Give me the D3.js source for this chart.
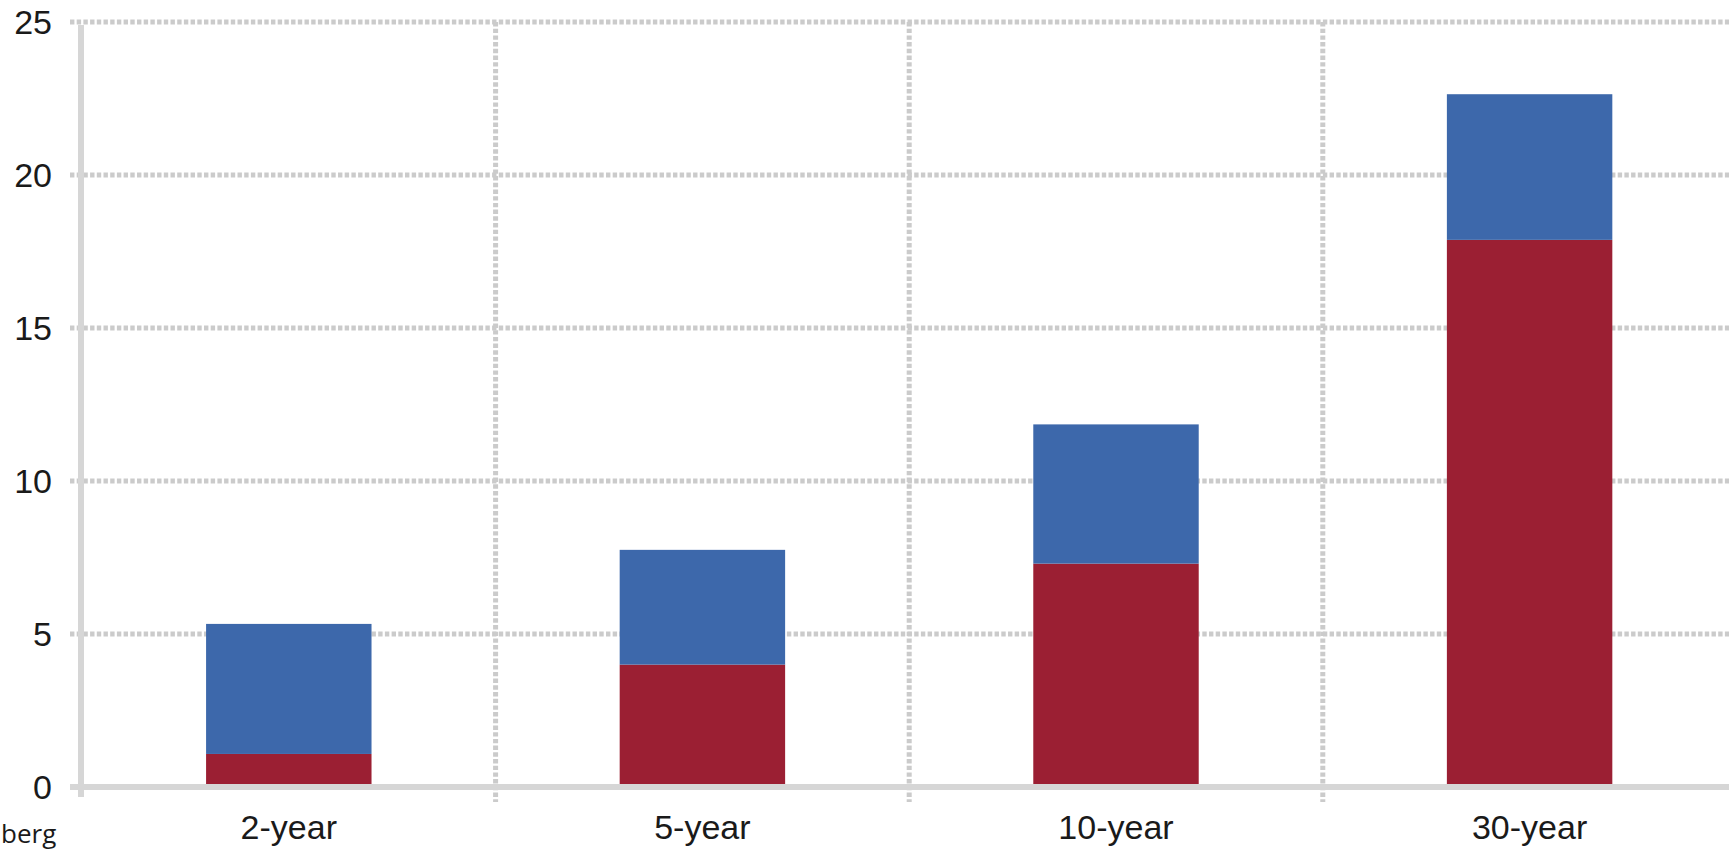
<!DOCTYPE html>
<html>
<head>
<meta charset="utf-8">
<script src="https://cdn.jsdelivr.net/npm/d3@7"></script>
<style>
  html, body { margin: 0; padding: 0; background: #fff; overflow: hidden; }
  svg { display: block; }
</style>
</head>
<body>
<svg id="chart" width="1729" height="850"></svg>
<script>
// Stacked bars by maturity
const categories = ["2-year", "5-year", "10-year", "30-year"];
const lowerValues = [1.08, 4.0, 7.3, 17.88];   // red segment
const upperValues = [4.25, 3.75, 4.55, 4.76];  // blue segment stacked on top
const yTicks = [0, 5, 10, 15, 20, 25];
const seriesKeys = ["lower", "upper"];
const seriesColors = { lower: "#9b1f33", upper: "#3d68ab" };
const sourceText = "berg";

const rows = categories.map((c, i) => ({ cat: c, lower: lowerValues[i], upper: upperValues[i] }));

const svg = d3.select("#chart");
const W = 1729;
const left = 82, step = 413.6;

const x = d3.scaleBand().domain(categories).range([left, left + step * categories.length]).padding(0);
const y = d3.scaleLinear().domain([0, 25]).range([787, 22]);

const gridColor = "#cbcbcb";
const axisColor = "#d6d6d6";

// horizontal dotted gridlines
svg.append("g").selectAll("line")
  .data(yTicks.filter(t => t > 0))
  .join("line")
  .attr("x1", 70).attr("x2", W)
  .attr("y1", d => y(d)).attr("y2", d => y(d))
  .attr("stroke", gridColor).attr("stroke-width", 5)
  .attr("stroke-dasharray", "4.4,2.3");

// vertical dotted gridlines at category boundaries
svg.append("g").selectAll("line")
  .data(categories.slice(1))
  .join("line")
  .attr("x1", d => x(d)).attr("x2", d => x(d))
  .attr("y1", y(25)).attr("y2", 802)
  .attr("stroke", gridColor).attr("stroke-width", 5)
  .attr("stroke-dasharray", "4.4,2.3");

// stacked bars
const stacked = d3.stack().keys(seriesKeys)(rows);
const barW = x.bandwidth() * 0.4;
svg.append("g").selectAll("g")
  .data(stacked)
  .join("g")
  .attr("fill", s => seriesColors[s.key])
  .selectAll("rect")
  .data(s => s)
  .join("rect")
  .attr("x", d => x(d.data.cat) + (x.bandwidth() - barW) / 2)
  .attr("width", barW)
  .attr("y", d => y(d[1]))
  .attr("height", d => y(d[0]) - y(d[1]));

// axes lines
svg.append("line")
  .attr("x1", 70).attr("x2", W)
  .attr("y1", y(0)).attr("y2", y(0))
  .attr("stroke", axisColor).attr("stroke-width", 6);
svg.append("line")
  .attr("x1", left - 1).attr("x2", left - 1)
  .attr("y1", y(25) + 3).attr("y2", 797)
  .attr("stroke", axisColor).attr("stroke-width", 6);

// y tick labels
svg.append("g").selectAll("text")
  .data(yTicks)
  .join("text")
  .attr("x", 52)
  .attr("y", d => y(d))
  .attr("dy", "0.36em")
  .attr("text-anchor", "end")
  .attr("font-family", "Liberation Sans, Arial, sans-serif")
  .attr("font-size", 34)
  .attr("fill", "#1a1a1a")
  .text(d => d);

// x category labels
svg.append("g").selectAll("text")
  .data(categories)
  .join("text")
  .attr("x", d => x(d) + x.bandwidth() / 2)
  .attr("y", 839)
  .attr("text-anchor", "middle")
  .attr("font-family", "Liberation Sans, Arial, sans-serif")
  .attr("font-size", 34)
  .attr("fill", "#1a1a1a")
  .text(d => d);

// source note
svg.append("text")
  .attr("x", 1)
  .attr("y", 843)
  .attr("text-anchor", "start")
  .attr("font-family", "Open Sans, sans-serif")
  .attr("font-size", 26)
  .attr("fill", "#1a1a1a")
  .text(sourceText);
</script>
</body>
</html>
